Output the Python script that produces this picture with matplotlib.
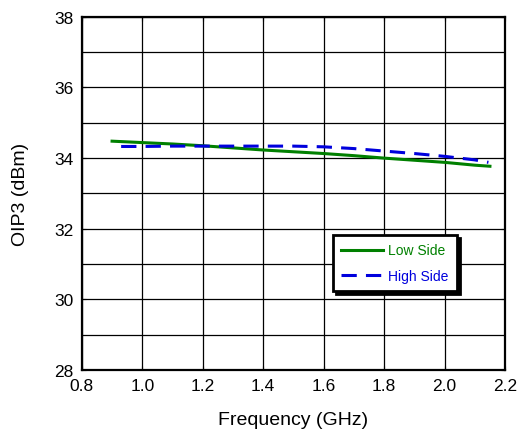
import matplotlib as mpl
import matplotlib.pyplot as plt
from matplotlib.ticker import MultipleLocator

mpl.rcParams['font.family'] = ['Liberation Sans', 'DejaVu Sans']

# values
freq_low = [0.90, 1.00, 1.10, 1.20, 1.30, 1.40, 1.50, 1.60, 1.70, 1.80, 1.90, 2.00, 2.10, 2.15]
oip3_low = [34.48, 34.44, 34.40, 34.35, 34.29, 34.23, 34.18, 34.13, 34.07, 34.00, 33.94, 33.88, 33.80, 33.77]

freq_high = [0.93, 1.00, 1.10, 1.20, 1.30, 1.40, 1.50, 1.60, 1.70, 1.80, 1.90, 2.00, 2.10, 2.145]
oip3_high = [34.33, 34.33, 34.34, 34.34, 34.34, 34.34, 34.34, 34.32, 34.27, 34.20, 34.13, 34.05, 33.95, 33.88]

fig = plt.figure(figsize=(5.18, 4.35), dpi=100)
ax = fig.add_axes([0.158, 0.147, 0.817, 0.812])

ax.plot(freq_low, oip3_low, c="#008000", ls="-", lw=2.2, label="Low Side")
ax.plot(freq_high, oip3_high, c="#0000DD", ls=(0, (5, 3)), lw=2.2, label="High Side")

ax.set_xlim(0.8, 2.2)
ax.set_ylim(28, 38)
ax.xaxis.set_major_locator(MultipleLocator(0.2))
ax.yaxis.set_major_locator(MultipleLocator(2))
ax.yaxis.set_minor_locator(MultipleLocator(1))
ax.xaxis.set_major_formatter(mpl.ticker.FormatStrFormatter("%.1f"))
ax.grid(True, which="both", color="black", lw=0.9)
ax.tick_params(which="both", direction="in", top=True, right=True, length=3, labelsize=12.5, pad=6)
for s in ax.spines.values():
    s.set_linewidth(1.6)

ax.set_xlabel("Frequency (GHz)", fontsize=14, labelpad=13)
ax.set_ylabel("OIP3 (dBm)", fontsize=14, labelpad=18)

leg = ax.legend(loc="lower left", bbox_to_anchor=(0.593, 0.224), borderaxespad=0,
                fontsize=10, frameon=True, fancybox=False, edgecolor="black", framealpha=1,
                shadow={"color": "black", "alpha": 1}, handlelength=3.0,
                handletextpad=0.4, borderpad=0.6, labelspacing=0.8)
leg.get_frame().set_linewidth(2)
for txt, line in zip(leg.get_texts(), leg.get_lines()):
    txt.set_color(line.get_color())

fig.savefig("out.png", dpi=100)
